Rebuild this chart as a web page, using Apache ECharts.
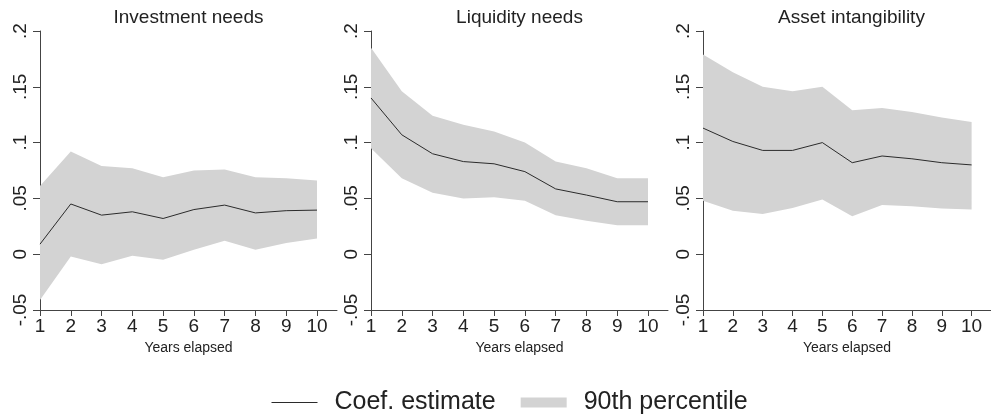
<!DOCTYPE html>
<html><head><meta charset="utf-8">
<script src="https://cdn.jsdelivr.net/npm/echarts@6/dist/echarts.min.js"></script>
<style>html,body{margin:0;padding:0;background:#fff}#c{width:991px;height:414px}</style>
</head><body><div id="c"></div>
<script>
const years = [1, 2, 3, 4, 5, 6, 7, 8, 9, 10];
const panelTitles = ['Investment needs', 'Liquidity needs', 'Asset intangibility'];
const yTicks = [-0.05, 0, 0.05, 0.1, 0.15, 0.2];

const invCoef  = [0.009, 0.045, 0.035, 0.038, 0.032, 0.040, 0.044, 0.037, 0.039, 0.0395];
const invLower = [-0.041, -0.002, -0.009, -0.0015, -0.005, 0.004, 0.012, 0.004, 0.010, 0.014];
const invUpper = [0.061, 0.092, 0.079, 0.077, 0.069, 0.075, 0.076, 0.069, 0.068, 0.066];

const liqCoef  = [0.140, 0.107, 0.090, 0.083, 0.081, 0.074, 0.0585, 0.053, 0.047, 0.047];
const liqLower = [0.095, 0.068, 0.055, 0.050, 0.051, 0.048, 0.035, 0.030, 0.026, 0.026];
const liqUpper = [0.185, 0.146, 0.124, 0.116, 0.110, 0.100, 0.083, 0.077, 0.068, 0.068];

const intCoef  = [0.113, 0.101, 0.093, 0.093, 0.100, 0.082, 0.088, 0.0855, 0.082, 0.080];
const intLower = [0.048, 0.039, 0.036, 0.0415, 0.049, 0.034, 0.044, 0.043, 0.041, 0.040];
const intUpper = [0.179, 0.163, 0.150, 0.146, 0.150, 0.129, 0.131, 0.1275, 0.1225, 0.1185];

const panels = [
  { coef: invCoef, lower: invLower, upper: invUpper },
  { coef: liqCoef, lower: liqLower, upper: liqUpper },
  { coef: intCoef, lower: intLower, upper: intUpper }
];

const FONT = '"Liberation Sans", Arial, Helvetica, sans-serif';
const gridLefts = [40, 371, 703];
const gridW = 297, gridTop = 31, gridH = 279;
const bandColor = '#d3d3d3';
const lineColor = '#2b2b2b';
const axisColor = '#444';

function fmtY(v) {
  const s = Math.round(v * 1000) / 1000;
  if (s === 0) return '0';
  const str = String(Math.abs(s)).replace(/^0/, '');
  return (s < 0 ? '-' : '') + str;
}

function bandRenderer(p) {
  return function (params, api) {
    if (params.dataIndex !== 0) return null;
    const pts = [];
    for (let k = 0; k < years.length; k++) pts.push(api.coord([years[k], p.upper[k]]));
    for (let k = years.length - 1; k >= 0; k--) pts.push(api.coord([years[k], p.lower[k]]));
    return {
      type: 'polygon',
      shape: { points: pts },
      style: { fill: bandColor, stroke: null }
    };
  };
}

const grid = [], xAxis = [], yAxis = [], series = [], title = [];
panels.forEach((p, i) => {
  grid.push({ left: gridLefts[i], top: gridTop, width: gridW, height: gridH, containLabel: false });
  title.push({
    text: panelTitles[i], left: gridLefts[i] + gridW / 2, top: 8, textAlign: 'center', padding: 0,
    textStyle: { fontFamily: FONT, fontSize: 19, fontWeight: 'normal', color: '#222' }
  });
  xAxis.push({
    type: 'value', gridIndex: i, min: 1, max: 10.65, interval: 1,
    name: 'Years elapsed', nameLocation: 'middle', nameGap: 25,
    nameTextStyle: { fontFamily: FONT, fontSize: 14, color: '#222' },
    axisLine: { show: true, onZero: false, lineStyle: { color: axisColor, width: 1 } },
    axisTick: { show: true, length: 6, customValues: years, lineStyle: { color: axisColor } },
    axisLabel: { customValues: years, fontFamily: FONT, fontSize: 19, color: '#222', margin: 7 },
    splitLine: { show: false }
  });
  yAxis.push({
    type: 'value', gridIndex: i, min: -0.05, max: 0.2, interval: 0.05,
    axisLine: { show: true, onZero: false, lineStyle: { color: axisColor, width: 1 } },
    axisTick: { show: true, length: 7, lineStyle: { color: axisColor } },
    axisLabel: { rotate: 90, formatter: fmtY, fontFamily: FONT, fontSize: 19, color: '#222', margin: 10 },
    splitLine: { show: false }
  });
  series.push({
    type: 'custom', name: '90th percentile', xAxisIndex: i, yAxisIndex: i,
    silent: true, z: 1,
    itemStyle: { color: bandColor },
    renderItem: bandRenderer(p),
    data: years.map((x, k) => [x, p.lower[k], p.upper[k]]),
    encode: { x: 0, y: [1, 2] }
  });
  series.push({
    type: 'line', name: 'Coef. estimate', xAxisIndex: i, yAxisIndex: i,
    symbol: 'none', silent: true, z: 5,
    itemStyle: { color: lineColor },
    lineStyle: { color: lineColor, width: 1 },
    data: years.map((x, k) => [x, p.coef[k]])
  });
});

const chart = echarts.init(document.getElementById('c'), null, { renderer: 'canvas' });
chart.setOption({
  animation: false,
  backgroundColor: '#fff',
  title,
  grid, xAxis, yAxis, series,
  legend: {
    left: 266, top: 385, itemWidth: 46, itemHeight: 10, itemGap: 25,
    selectedMode: false,
    textStyle: { fontFamily: FONT, fontSize: 25, color: '#222', padding: [0, 0, 0, 12] },
    data: [
      { name: 'Coef. estimate', itemStyle: { opacity: 0 }, lineStyle: { color: lineColor, width: 1 } },
      { name: '90th percentile', icon: 'rect', itemStyle: { color: bandColor } }
    ]
  }
});
</script></body></html>
